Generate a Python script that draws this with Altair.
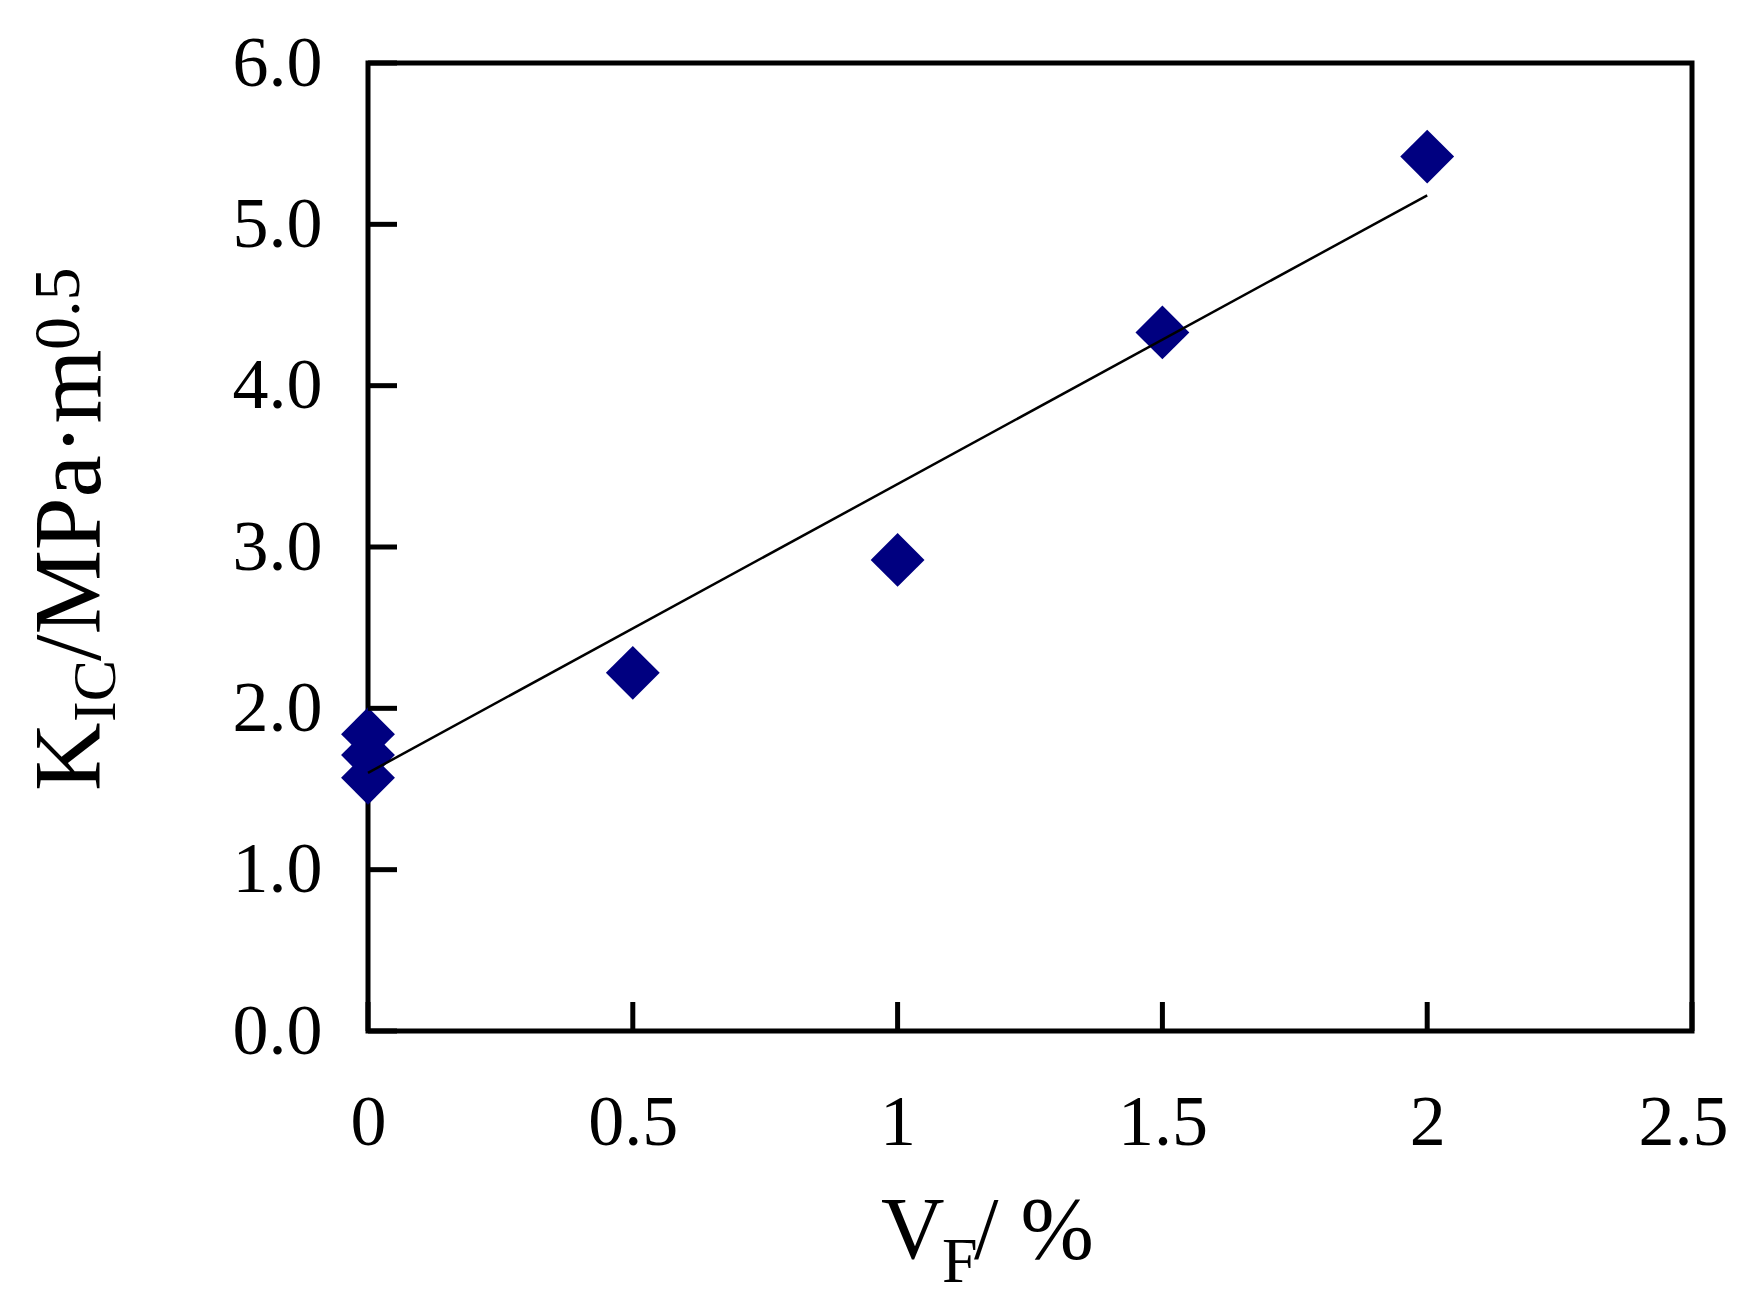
import altair as alt
import pandas as pd

# ---- data ----
vf_points = [0, 0, 0, 0.5, 1.0, 1.5, 2.0]
kic_points = [1.84, 1.71, 1.57, 2.22, 2.92, 4.33, 5.42]

fit_vf = [0, 2.0]
fit_kic = [1.60, 5.18]

x_ticks = [0, 0.5, 1.0, 1.5, 2.0, 2.5]
y_ticks = [0, 1, 2, 3, 4, 5, 6]

y_title_parts = ["K", "IC", "/MPa·m", "0.5"]
x_title_parts = ["V", "F", "/ %"]

FONT = "Liberation Serif"
W, H = 1324, 968
TICK = 29

pts = pd.DataFrame({"vf": vf_points, "kic": kic_points})
fit = pd.DataFrame({"vf": fit_vf, "kic": fit_kic})
xt = pd.DataFrame({"vf": x_ticks})
yt = pd.DataFrame({"kic": y_ticks})

xscale = alt.Scale(domain=[0, 2.5], nice=False, zero=False)
yscale = alt.Scale(domain=[0, 6], nice=False, zero=False)

xaxis = alt.Axis(title=None, values=x_ticks, format="~g", domain=False, ticks=False,
                 grid=False, labelFont=FONT, labelFontSize=72, labelColor="black",
                 labelPadding=56, labelFlush=False, labelOverlap=False,
                 labelOffset={"condition": {"test": "datum.value == 2.5", "value": -9},
                              "value": 0})
yaxis = alt.Axis(title=None, values=y_ticks, format=".1f", domain=False, ticks=False,
                 grid=False, labelFont=FONT, labelFontSize=72, labelColor="black",
                 labelPadding=46, labelFlush=False, labelOverlap=False)

X = alt.X("vf:Q", scale=xscale, axis=xaxis)
Y = alt.Y("kic:Q", scale=yscale, axis=yaxis)

points = alt.Chart(pts).mark_point(shape="diamond", filled=True, size=2900,
                                    color="#000080", opacity=1).encode(x=X, y=Y)

line = alt.Chart(fit).mark_line(color="black", strokeWidth=2.5).encode(x=X, y=Y)

xtick_rules = alt.Chart(xt).mark_rule(color="black", strokeWidth=5).encode(
    x=X, y=alt.value(H), y2=alt.value(H - TICK))
ytick_rules = alt.Chart(yt).mark_rule(color="black", strokeWidth=5).encode(
    y=Y, x=alt.value(0), x2=alt.value(TICK))


def label(txt, x, y, size, angle=0):
    return alt.Chart(pd.DataFrame({"t": [txt]})).mark_text(
        font=FONT, fontSize=size, color="black", align="left",
        baseline="alphabetic", angle=angle).encode(
        text="t:N", x=alt.value(x), y=alt.value(y))


# y-axis title (rotated, reading upwards)
yt_layers = [
    label(y_title_parts[0], -268, 728, 95, 270),
    label(y_title_parts[1], -253, 659, 62, 270),
    label(y_title_parts[2], -268, 598, 95, 270),
    label(y_title_parts[3], -289, 287, 66, 270),
]
# x-axis title
xt_layers = [
    label(x_title_parts[0], 513, 1195, 88),
    label(x_title_parts[1], 574, 1219, 64),
    label(x_title_parts[2], 606, 1195, 88),
]

chart = alt.layer(points, line, xtick_rules, ytick_rules, *yt_layers, *xt_layers).properties(
    width=W, height=H,
    padding={"left": 360, "top": 55, "right": 38, "bottom": 265},
    autosize=alt.AutoSizeParams(type="none"),
    background="white",
).configure_view(stroke="black", strokeWidth=5)

chart.save("out.html", embed_options={"renderer": "svg", "actions": False})
